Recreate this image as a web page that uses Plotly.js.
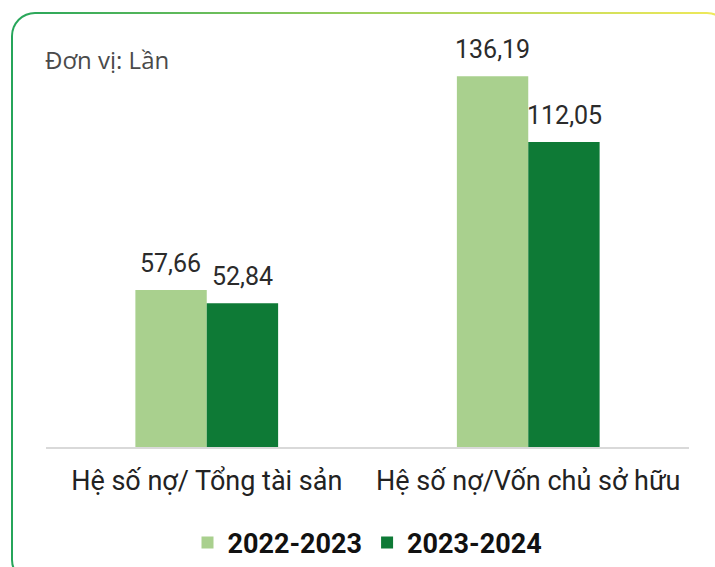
<!DOCTYPE html>
<html>
<head>
<meta charset="utf-8">
<script src="https://cdn.plot.ly/plotly-3.0.1.min.js"></script>
<style>
  html, body { margin: 0; padding: 0; background: #fff; }
  #frame {
    position: absolute; left: 11px; top: 12px; width: 716px; height: 568px;
    border-radius: 24px; padding: 2px;
    background: linear-gradient(to right, #25a55a 0%, #9fd05c 50%, #f2ea5a 100%);
  }
  #frame .inner { width: 100%; height: 100%; background: #fff; border-radius: 22px; }
  #chart { position: absolute; left: 0; top: 0; width: 715px; height: 567px; }
</style>
</head>
<body>
<div id="frame"><div class="inner"></div></div>
<div id="chart"></div>
<script>
// categories and series
var categories = ['Hệ số nợ/ Tổng tài sản', 'Hệ số nợ/Vốn chủ sở hữu'];
var seriesNames = ['2022-2023', '2023-2024'];
var values2223 = [57.66, 136.19];
var values2324 = [52.84, 112.05];
var colors = ['#a9d08e', '#0e7a36'];

var trace1 = {
    x: categories,
    y: values2223,
    type: 'bar',
    name: seriesNames[0],
    marker: { color: colors[0] },
    hoverinfo: 'none'
};
var trace2 = {
    x: categories,
    y: values2324,
    type: 'bar',
    name: seriesNames[1],
    marker: { color: colors[1] },
    hoverinfo: 'none'
};

// value labels above each bar
var fmt = function (v) { return v.toFixed(2).replace('.', ','); };
var annotations = [];
[values2223, values2324].forEach(function (vals, s) {
    vals.forEach(function (v, i) {
        annotations.push({
            x: categories[i], y: v, xref: 'x', yref: 'y',
            text: fmt(v), showarrow: false,
            xshift: s === 0 ? -36 : 36, yshift: 10,
            yanchor: 'bottom',
            font: { family: 'Roboto, sans-serif', size: 25, color: '#2b2b2b' }
        });
    });
});
annotations.push({
    xref: 'paper', yref: 'paper', x: -0.004, y: 1.016,
    xanchor: 'left', yanchor: 'middle', showarrow: false,
    text: 'Đơn vị: Lần',
    font: { family: "'Open Sans', sans-serif", size: 24, color: '#4a4a4a' }
});

var layout = {
    width: 715,
    height: 567,
    margin: { l: 46, r: 26, t: 66, b: 120, autoexpand: false },
    paper_bgcolor: 'rgba(0,0,0,0)',
    plot_bgcolor: 'rgba(0,0,0,0)',
    barmode: 'group',
    bargap: 0.556,
    bargroupgap: 0,
    font: { family: 'Roboto, sans-serif', color: '#222' },
    xaxis: {
        showline: true,
        linecolor: '#d9d9d9',
        linewidth: 2,
        ticks: '',
        automargin: false,
        tickfont: { size: 27, color: '#222' },
        ticklabelstandoff: 9
    },
    yaxis: {
        range: [0, 140],
        visible: false,
        showgrid: false,
        zeroline: false
    },
    showlegend: true,
    legend: {
        orientation: 'h',
        x: 0.5, xanchor: 'center',
        y: -0.252, yanchor: 'middle',
        font: { size: 27, color: '#111', weight: 'bold' },
        itemclick: false
    },
    annotations: annotations
};

Plotly.newPlot('chart', [trace1, trace2], layout, { displayModeBar: false, staticPlot: true });
</script>
</body>
</html>
